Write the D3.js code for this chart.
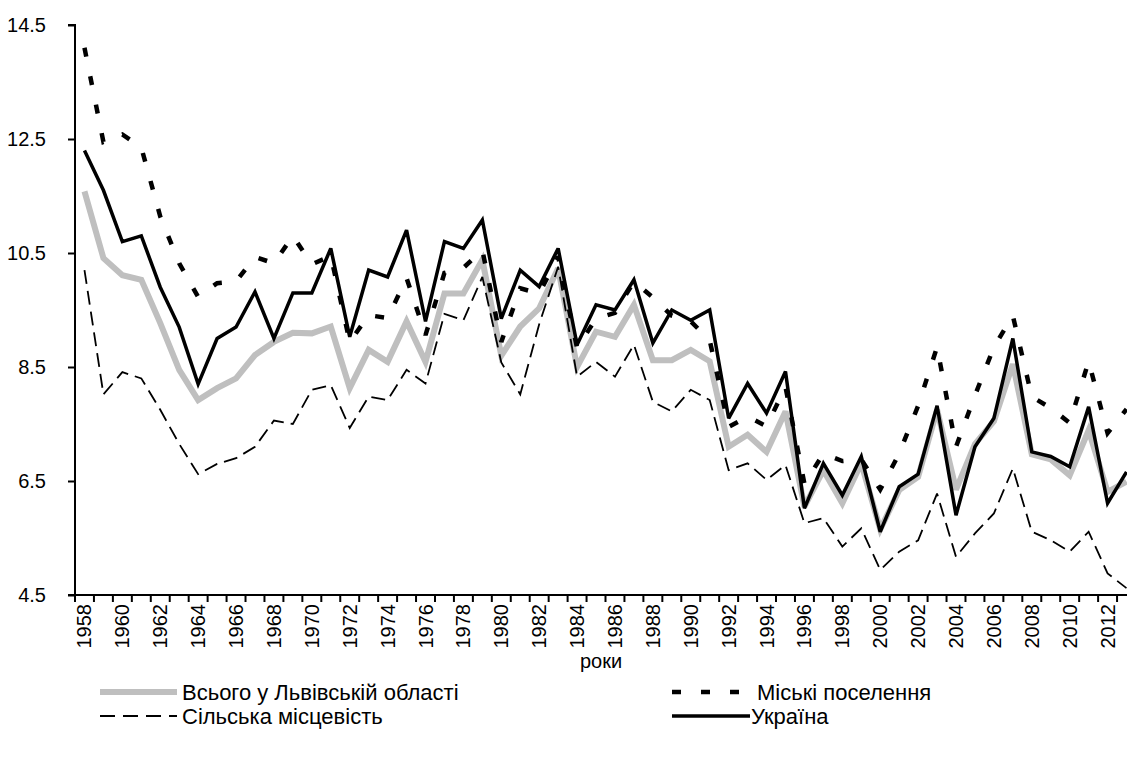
<!DOCTYPE html>
<html><head><meta charset="utf-8">
<script src="https://cdn.jsdelivr.net/npm/d3@7"></script>
<style>
html,body{margin:0;padding:0;background:#fff;}
svg{display:block;font-family:"Liberation Sans",Arial,sans-serif;}
</style></head>
<body><svg id="c" width="1127" height="760"></svg>
<script>
const years = d3.range(1958, 2014);
const lvivTotal = [11.58,10.41,10.11,10.03,9.27,8.45,7.92,8.13,8.3,8.71,8.94,9.1,9.09,9.21,8.13,8.8,8.59,9.3,8.59,9.79,9.79,10.38,8.7,9.21,9.53,10.23,8.5,9.12,9.03,9.59,8.62,8.62,8.8,8.6,7.1,7.31,7.01,7.72,6.05,6.69,6.11,6.81,5.65,6.34,6.57,7.75,6.35,7.15,7.55,8.55,6.97,6.88,6.6,7.39,6.31,6.49];
const urban = [14.1,12.45,12.58,12.35,11.14,10.32,9.73,9.97,10.0,10.43,10.32,10.8,10.3,10.45,8.94,9.41,9.36,10.06,9.06,10.15,10.24,10.55,8.94,9.88,9.79,10.44,8.83,9.35,9.45,10.0,9.72,9.4,9.3,8.97,7.45,7.63,7.46,8.15,6.45,6.98,6.85,6.88,6.35,6.98,7.82,8.85,7.1,8.0,8.85,9.4,7.98,7.78,7.52,8.6,7.34,7.76];
const rural = [10.2,8.02,8.41,8.3,7.75,7.15,6.62,6.8,6.9,7.1,7.56,7.5,8.1,8.18,7.43,7.98,7.92,8.45,8.21,9.43,9.32,10.08,8.58,8.02,9.25,10.26,8.33,8.59,8.33,8.89,7.89,7.72,8.1,7.92,6.69,6.81,6.52,6.78,5.76,5.85,5.35,5.67,4.94,5.26,5.46,6.28,5.17,5.58,5.93,6.72,5.61,5.46,5.26,5.61,4.88,4.62];
const ukraine = [12.3,11.6,10.7,10.8,9.9,9.2,8.2,9.0,9.2,9.82,9.0,9.8,9.8,10.58,9.03,10.2,10.08,10.9,9.3,10.7,10.58,11.08,9.35,10.2,9.91,10.58,8.89,9.59,9.5,10.03,8.92,9.5,9.32,9.5,7.6,8.21,7.69,8.42,6.02,6.81,6.25,6.93,5.61,6.4,6.62,7.82,5.9,7.1,7.6,9.0,7.01,6.93,6.75,7.8,6.11,6.66];
const yTicks = [4.5,6.5,8.5,10.5,12.5,14.5];
const xLabelYears = years.filter(y => (y - 1958) % 2 === 0);
const seriesNames = ["Всього у Львівській області","Міські поселення","Сільська місцевість","Україна"];
const xTitle = "роки";

const svg = d3.select("#c");
const mLeft = 75, mTop = 25, mBottom = 595, mRight = 1136;
const x = d3.scaleBand().domain(years).range([mLeft, mRight]).padding(0);
const y = d3.scaleLinear().domain([4.5, 14.5]).range([mBottom, mTop]);
const cx = d => x(d) + x.bandwidth()/2;

const styles = [
  {data: lvivTotal, stroke: "#bfbfbf", width: 6, dash: null},
  {data: urban, stroke: "#000", width: 4.5, dash: "9,20"},
  {data: rural, stroke: "#000", width: 1.8, dash: "14,7"},
  {data: ukraine, stroke: "#000", width: 3.5, dash: null}
];

const line = d3.line().x((d,i) => cx(years[i])).y(d => y(d));
styles.forEach(s => {
  svg.append("path").datum(s.data)
    .attr("d", line).attr("fill","none")
    .attr("stroke", s.stroke).attr("stroke-width", s.width)
    .attr("stroke-dasharray", s.dash)
    .attr("stroke-linejoin","miter").attr("stroke-miterlimit", 3);
});

// Y axis
const yAxis = svg.append("g").attr("transform", `translate(${mLeft},0)`)
  .call(d3.axisLeft(y).tickValues(yTicks).tickFormat(d3.format(".1f")).tickSize(7).tickPadding(22));
yAxis.select(".domain").attr("stroke","#000").attr("stroke-width",2).attr("d", `M-7,${mTop}H0V${mBottom}H-7`);
yAxis.selectAll(".tick line").attr("stroke","#000").attr("stroke-width",2);
yAxis.selectAll(".tick text").attr("font-size", 20).attr("fill","#000").attr("font-family","Liberation Sans, Arial, sans-serif");

// X axis
const xa = svg.append("g").attr("transform", `translate(0,${mBottom})`);
xa.append("line").attr("x1", mLeft).attr("x2", mRight).attr("y1",0).attr("y2",0).attr("stroke","#000").attr("stroke-width",2);
xa.selectAll("line.tk").data(years.concat([2014])).enter().append("line").attr("class","tk")
  .attr("x1", d => d === 2014 ? mRight : x(d)).attr("x2", d => d === 2014 ? mRight : x(d))
  .attr("y1",0).attr("y2",7).attr("stroke","#000").attr("stroke-width",2);
xa.selectAll("text.lb").data(xLabelYears).enter().append("text").attr("class","lb")
  .attr("transform", d => `translate(${cx(d)+7},9) rotate(-90)`)
  .attr("text-anchor","end").attr("font-size",20).attr("fill","#000").text(d => d);

svg.append("text").attr("x", 601).attr("y", 668).attr("text-anchor","middle")
  .attr("font-size",20).text(xTitle);

// Legend
const leg = [
  {s: styles[0], x: 100, y: 692, tx: 182},
  {s: styles[1], x: 672, y: 692, tx: 757},
  {s: styles[2], x: 100, y: 716, tx: 182},
  {s: styles[3], x: 672, y: 716, tx: 751}
];
leg.forEach((l,i) => {
  const len = (i===1||i===3) ? 78 : 77;
  svg.append("line").attr("x1", l.x).attr("x2", l.x + len).attr("y1", l.y).attr("y2", l.y)
    .attr("stroke", l.s.stroke).attr("stroke-width", l.s.width)
    .attr("stroke-dasharray", i===1 ? "9,20" : (i===2 ? "15,8" : null));
  svg.append("text").attr("x", l.tx).attr("y", l.y + 8).attr("font-size", 22).attr("fill","#000").text(seriesNames[i]);
});
</script></body></html>
